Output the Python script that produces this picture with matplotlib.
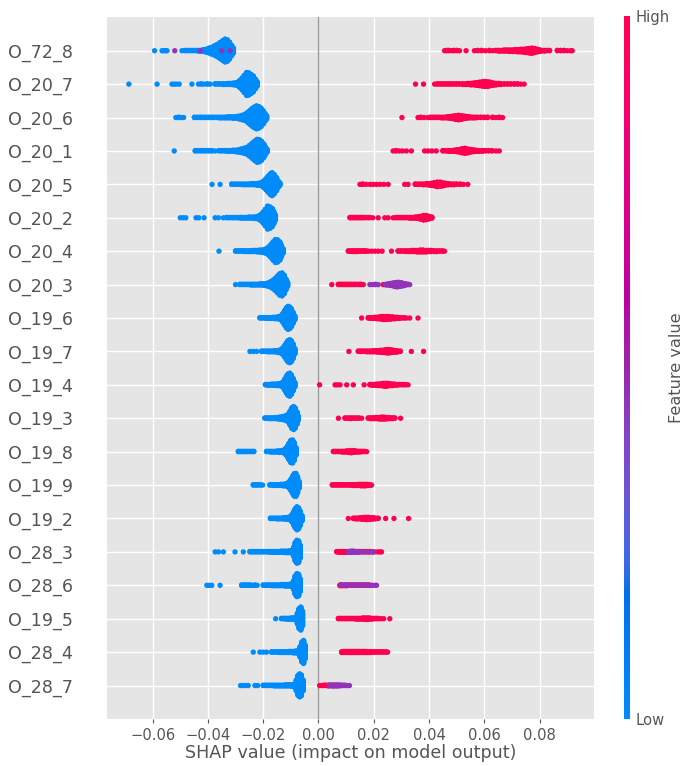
import numpy as np
import matplotlib
matplotlib.use("Agg")
import matplotlib.pyplot as plt
from matplotlib.colors import LinearSegmentedColormap, Normalize

plt.style.use("ggplot")

# features from top to bottom
features = ["O_72_8", "O_20_7", "O_20_6", "O_20_1", "O_20_5", "O_20_2", "O_20_4",
            "O_20_3", "O_19_6", "O_19_7", "O_19_4", "O_19_3", "O_19_8", "O_19_9",
            "O_19_2", "O_28_3", "O_28_6", "O_19_5", "O_28_4", "O_28_7"]

# (shap value, number of samples at that value) for low / high / middle feature values
o_72_8_low = [(-0.0593, 1), (-0.0566, 1), (-0.0560, 1), (-0.0554, 1), (-0.0548, 1),
              (-0.0494, 1), (-0.0484, 2), (-0.0474, 2), (-0.0464, 2), (-0.0454, 2),
              (-0.0444, 2), (-0.0434, 3), (-0.0426, 3), (-0.0416, 6), (-0.0406, 9),
              (-0.0396, 14), (-0.0386, 19), (-0.0376, 26), (-0.0366, 34), (-0.0356, 44),
              (-0.0346, 54), (-0.0338, 62), (-0.0330, 58), (-0.0322, 46), (-0.0314, 28),
              (-0.0308, 14)]
o_72_8_high = [(0.0456, 1), (0.0464, 2), (0.0472, 2), (0.0482, 1), (0.0490, 2), (0.0500, 2),
               (0.0510, 1), (0.0534, 1), (0.0564, 1), (0.0576, 2), (0.0590, 2), (0.0604, 1),
               (0.0618, 2), (0.0630, 1), (0.0642, 2), (0.0652, 3), (0.0662, 3), (0.0672, 4),
               (0.0682, 4), (0.0692, 5), (0.0702, 5), (0.0712, 6), (0.0722, 7), (0.0732, 8),
               (0.0742, 9), (0.0752, 11), (0.0762, 13), (0.0772, 15), (0.0782, 12),
               (0.0792, 8), (0.0802, 5), (0.0816, 3), (0.0826, 2), (0.0836, 2), (0.0864, 2),
               (0.0876, 2), (0.0888, 2), (0.0900, 1), (0.0912, 1), (0.0918, 1)]
o_72_8_mid = [(-0.0520, 1), (-0.0428, 1), (-0.0320, 1), (-0.0350, 1)]

o_20_7_low = [(-0.0686, 1), (-0.0584, 1), (-0.0530, 1), (-0.0522, 1), (-0.0514, 1),
              (-0.0504, 1), (-0.0458, 1), (-0.0434, 1), (-0.0424, 2), (-0.0414, 1),
              (-0.0402, 2), (-0.0392, 1), (-0.0374, 2), (-0.0364, 2), (-0.0354, 2),
              (-0.0344, 3), (-0.0334, 3), (-0.0324, 4), (-0.0314, 4), (-0.0306, 6),
              (-0.0296, 8), (-0.0286, 18), (-0.0276, 32), (-0.0268, 46), (-0.0260, 60),
              (-0.0252, 58), (-0.0244, 50), (-0.0236, 42), (-0.0228, 26), (-0.0222, 12)]
o_20_7_high = [(0.0351, 1), (0.0380, 1), (0.0420, 1), (0.0430, 2), (0.0440, 2), (0.0450, 2),
               (0.0460, 2), (0.0470, 2), (0.0480, 2), (0.0490, 2), (0.0500, 2), (0.0510, 2),
               (0.0522, 3), (0.0532, 3), (0.0542, 4), (0.0552, 5), (0.0562, 6), (0.0572, 8),
               (0.0582, 10), (0.0592, 12), (0.0602, 14), (0.0612, 13), (0.0622, 10),
               (0.0632, 7), (0.0642, 5), (0.0652, 4), (0.0660, 3), (0.0672, 2), (0.0684, 2),
               (0.0696, 2), (0.0708, 2), (0.0720, 2), (0.0732, 1), (0.0744, 1)]
o_20_7_mid = []

o_20_6_low = [(-0.0516, 1), (-0.0506, 2), (-0.0496, 1), (-0.0488, 1), (-0.0449, 2),
              (-0.0438, 2), (-0.0428, 2), (-0.0418, 2), (-0.0408, 2), (-0.0398, 2),
              (-0.0388, 2), (-0.0378, 2), (-0.0368, 2), (-0.0358, 3), (-0.0348, 3),
              (-0.0338, 3), (-0.0328, 4), (-0.0318, 4), (-0.0308, 5), (-0.0296, 6),
              (-0.0286, 9), (-0.0276, 13), (-0.0266, 18), (-0.0256, 28), (-0.0248, 38),
              (-0.0240, 48), (-0.0232, 56), (-0.0224, 62), (-0.0216, 58), (-0.0208, 50),
              (-0.0200, 36), (-0.0194, 22), (-0.0188, 10)]
o_20_6_high = [(0.0302, 1), (0.0360, 1), (0.0370, 2), (0.0382, 1), (0.0396, 1), (0.0406, 2),
               (0.0416, 2), (0.0426, 2), (0.0436, 2), (0.0446, 3), (0.0456, 3), (0.0466, 4),
               (0.0476, 6), (0.0486, 8), (0.0496, 11), (0.0506, 13), (0.0516, 11),
               (0.0526, 8), (0.0536, 6), (0.0546, 4), (0.0556, 3), (0.0566, 3), (0.0576, 2),
               (0.0588, 2), (0.0600, 2), (0.0612, 2), (0.0630, 2), (0.0642, 1), (0.0654, 2),
               (0.0666, 1)]
o_20_6_mid = []

o_20_1_low = [(-0.0522, 1), (-0.0446, 2), (-0.0436, 2), (-0.0426, 2), (-0.0416, 2),
              (-0.0406, 2), (-0.0396, 2), (-0.0386, 2), (-0.0374, 1), (-0.0360, 2),
              (-0.0350, 2), (-0.0340, 2), (-0.0330, 3), (-0.0320, 3), (-0.0310, 4),
              (-0.0300, 5), (-0.0290, 7), (-0.0280, 10), (-0.0270, 14), (-0.0260, 18),
              (-0.0250, 28), (-0.0240, 40), (-0.0230, 52), (-0.0222, 60), (-0.0214, 58),
              (-0.0206, 50), (-0.0198, 36), (-0.0192, 20), (-0.0186, 8)]
o_20_1_high = [(0.0270, 1), (0.0280, 2), (0.0292, 1), (0.0304, 1), (0.0318, 1), (0.0336, 1),
               (0.0384, 1), (0.0396, 1), (0.0410, 1), (0.0426, 1), (0.0450, 2), (0.0460, 2),
               (0.0470, 3), (0.0480, 3), (0.0490, 4), (0.0500, 6), (0.0510, 8), (0.0520, 12),
               (0.0530, 14), (0.0540, 11), (0.0550, 8), (0.0560, 6), (0.0570, 4),
               (0.0580, 3), (0.0592, 3), (0.0604, 2), (0.0616, 2), (0.0628, 2), (0.0642, 1),
               (0.0654, 1)]
o_20_1_mid = []

o_20_5_low = [(-0.0385, 1), (-0.0356, 1), (-0.0314, 2), (-0.0304, 2), (-0.0294, 2),
              (-0.0284, 2), (-0.0274, 3), (-0.0264, 3), (-0.0254, 3), (-0.0244, 4),
              (-0.0234, 4), (-0.0224, 5), (-0.0216, 6), (-0.0206, 10), (-0.0198, 18),
              (-0.0190, 30), (-0.0182, 44), (-0.0174, 56), (-0.0168, 62), (-0.0160, 52),
              (-0.0152, 36), (-0.0146, 18), (-0.0140, 8)]
o_20_5_high = [(0.0150, 1), (0.0160, 2), (0.0172, 1), (0.0186, 1), (0.0198, 1), (0.0210, 1),
               (0.0222, 1), (0.0236, 1), (0.0252, 1), (0.0312, 1), (0.0324, 1), (0.0350, 2),
               (0.0360, 2), (0.0370, 2), (0.0380, 3), (0.0390, 4), (0.0400, 5), (0.0410, 7),
               (0.0420, 10), (0.0430, 13), (0.0440, 12), (0.0450, 9), (0.0460, 6),
               (0.0470, 4), (0.0480, 3), (0.0490, 3), (0.0500, 2), (0.0512, 2), (0.0524, 1),
               (0.0540, 1)]
o_20_5_mid = []

o_20_2_low = [(-0.0500, 1), (-0.0490, 1), (-0.0480, 1), (-0.0443, 1), (-0.0433, 1),
              (-0.0414, 1), (-0.0374, 1), (-0.0362, 1), (-0.0344, 1), (-0.0332, 2),
              (-0.0322, 2), (-0.0312, 2), (-0.0302, 2), (-0.0292, 2), (-0.0282, 3),
              (-0.0272, 3), (-0.0262, 3), (-0.0252, 4), (-0.0242, 4), (-0.0232, 5),
              (-0.0224, 6), (-0.0216, 10), (-0.0208, 18), (-0.0200, 30), (-0.0192, 46),
              (-0.0184, 62), (-0.0176, 58), (-0.0168, 50), (-0.0162, 34), (-0.0156, 14)]
o_20_2_high = [(0.0114, 2), (0.0122, 2), (0.0130, 2), (0.0138, 2), (0.0146, 2), (0.0154, 2),
               (0.0162, 2), (0.0172, 2), (0.0184, 2), (0.0196, 1), (0.0216, 1), (0.0240, 1),
               (0.0252, 1), (0.0270, 1), (0.0280, 2), (0.0290, 2), (0.0300, 2), (0.0310, 2),
               (0.0320, 2), (0.0330, 3), (0.0340, 3), (0.0350, 4), (0.0360, 6), (0.0370, 9),
               (0.0380, 13), (0.0390, 12), (0.0400, 8), (0.0410, 4)]
o_20_2_mid = []

o_20_4_low = [(-0.0360, 1), (-0.0300, 2), (-0.0292, 2), (-0.0284, 2), (-0.0276, 2),
              (-0.0268, 3), (-0.0260, 3), (-0.0252, 3), (-0.0244, 3), (-0.0236, 4),
              (-0.0228, 4), (-0.0220, 5), (-0.0212, 6), (-0.0204, 7), (-0.0196, 9),
              (-0.0188, 14), (-0.0180, 22), (-0.0172, 34), (-0.0164, 48), (-0.0156, 60),
              (-0.0148, 58), (-0.0140, 48), (-0.0134, 30), (-0.0128, 12)]
o_20_4_high = [(0.0108, 2), (0.0116, 2), (0.0124, 3), (0.0132, 3), (0.0140, 3), (0.0148, 2),
               (0.0156, 2), (0.0164, 2), (0.0172, 2), (0.0180, 1), (0.0192, 1), (0.0204, 1),
               (0.0216, 1), (0.0230, 1), (0.0264, 1), (0.0288, 2), (0.0298, 2), (0.0308, 2),
               (0.0318, 3), (0.0328, 3), (0.0338, 4), (0.0348, 4), (0.0358, 5), (0.0368, 6),
               (0.0378, 6), (0.0388, 5), (0.0398, 4), (0.0408, 4), (0.0418, 3), (0.0428, 3),
               (0.0438, 2), (0.0448, 2), (0.0456, 1)]
o_20_4_mid = []

o_20_3_low = [(-0.0300, 1), (-0.0284, 2), (-0.0276, 2), (-0.0268, 2), (-0.0260, 2),
              (-0.0252, 2), (-0.0244, 3), (-0.0236, 3), (-0.0228, 3), (-0.0220, 3),
              (-0.0212, 4), (-0.0204, 4), (-0.0196, 5), (-0.0188, 7), (-0.0180, 11),
              (-0.0172, 16), (-0.0164, 24), (-0.0156, 34), (-0.0148, 46), (-0.0140, 58),
              (-0.0132, 62), (-0.0124, 50), (-0.0118, 30), (-0.0112, 12)]
o_20_3_high = [(0.0048, 1), (0.0072, 2), (0.0080, 2), (0.0088, 2), (0.0096, 2), (0.0104, 2),
               (0.0112, 2), (0.0120, 2), (0.0128, 2), (0.0136, 2), (0.0146, 2), (0.0154, 2),
               (0.0162, 1), (0.0234, 1)]
o_20_3_mid = [(0.0186, 1), (0.0196, 1), (0.0206, 2), (0.0216, 1), (0.0244, 3), (0.0252, 4),
              (0.0260, 6), (0.0268, 8), (0.0276, 11), (0.0284, 13), (0.0292, 12),
              (0.0300, 10), (0.0308, 7), (0.0316, 4), (0.0324, 2), (0.0330, 1)]

o_19_6_low = [(-0.0212, 2), (-0.0204, 2), (-0.0196, 2), (-0.0188, 3), (-0.0180, 3),
              (-0.0172, 3), (-0.0164, 4), (-0.0156, 5), (-0.0148, 6), (-0.0140, 8),
              (-0.0134, 14), (-0.0128, 26), (-0.0122, 40), (-0.0116, 54), (-0.0110, 62),
              (-0.0104, 58), (-0.0098, 48), (-0.0092, 30), (-0.0086, 12)]
o_19_6_high = [(0.0156, 1), (0.0180, 2), (0.0188, 3), (0.0196, 3), (0.0204, 4), (0.0212, 5),
               (0.0220, 6), (0.0228, 8), (0.0236, 9), (0.0244, 9), (0.0252, 8), (0.0260, 7),
               (0.0268, 6), (0.0276, 5), (0.0284, 4), (0.0292, 3), (0.0300, 2), (0.0310, 2),
               (0.0318, 1), (0.0330, 1), (0.0360, 1)]
o_19_6_mid = []

o_19_7_low = [(-0.0248, 1), (-0.0236, 1), (-0.0224, 1), (-0.0206, 2), (-0.0198, 2),
              (-0.0190, 2), (-0.0182, 3), (-0.0174, 3), (-0.0166, 3), (-0.0158, 4),
              (-0.0150, 5), (-0.0142, 7), (-0.0134, 12), (-0.0128, 20), (-0.0122, 32),
              (-0.0116, 46), (-0.0110, 58), (-0.0104, 62), (-0.0098, 56), (-0.0092, 40),
              (-0.0086, 16)]
o_19_7_high = [(0.0110, 1), (0.0144, 2), (0.0152, 2), (0.0160, 2), (0.0168, 2), (0.0176, 3),
               (0.0184, 3), (0.0192, 3), (0.0200, 4), (0.0208, 4), (0.0216, 5), (0.0224, 6),
               (0.0232, 7), (0.0240, 8), (0.0248, 10), (0.0256, 10), (0.0264, 8),
               (0.0272, 6), (0.0280, 5), (0.0288, 3), (0.0296, 2), (0.0336, 1), (0.0380, 1)]
o_19_7_mid = []

o_19_4_low = [(-0.0192, 2), (-0.0184, 3), (-0.0176, 3), (-0.0168, 4), (-0.0160, 4),
              (-0.0152, 5), (-0.0144, 6), (-0.0136, 8), (-0.0128, 16), (-0.0122, 30),
              (-0.0116, 46), (-0.0110, 58), (-0.0104, 62), (-0.0098, 52), (-0.0092, 34),
              (-0.0086, 14)]
o_19_4_high = [(0.0004, 1), (0.0060, 1), (0.0068, 1), (0.0078, 1), (0.0102, 1), (0.0126, 1),
               (0.0165, 1), (0.0186, 2), (0.0194, 3), (0.0202, 3), (0.0210, 4), (0.0218, 5),
               (0.0226, 6), (0.0234, 8), (0.0242, 9), (0.0250, 8), (0.0258, 6), (0.0266, 5),
               (0.0274, 4), (0.0284, 3), (0.0294, 2), (0.0304, 2), (0.0314, 2), (0.0324, 1)]
o_19_4_mid = []

o_19_3_low = [(-0.0194, 2), (-0.0186, 2), (-0.0178, 3), (-0.0170, 3), (-0.0162, 3),
              (-0.0154, 4), (-0.0146, 5), (-0.0140, 6), (-0.0132, 8), (-0.0126, 10),
              (-0.0120, 12), (-0.0114, 16), (-0.0108, 24), (-0.0102, 40), (-0.0096, 56),
              (-0.0090, 62), (-0.0084, 54), (-0.0078, 34), (-0.0074, 14)]
o_19_3_high = [(0.0072, 1), (0.0096, 2), (0.0106, 2), (0.0116, 3), (0.0126, 2), (0.0136, 2),
               (0.0146, 2), (0.0156, 1), (0.0180, 2), (0.0188, 3), (0.0196, 3), (0.0204, 4),
               (0.0212, 4), (0.0220, 5), (0.0228, 6), (0.0236, 6), (0.0244, 5), (0.0252, 4),
               (0.0260, 3), (0.0268, 3), (0.0276, 2), (0.0297, 1)]
o_19_3_mid = []

o_19_8_low = [(-0.0290, 2), (-0.0282, 2), (-0.0274, 2), (-0.0266, 2), (-0.0258, 2),
              (-0.0250, 2), (-0.0242, 2), (-0.0234, 2), (-0.0188, 2), (-0.0180, 2),
              (-0.0172, 3), (-0.0164, 3), (-0.0156, 3), (-0.0148, 4), (-0.0140, 5),
              (-0.0132, 6), (-0.0124, 10), (-0.0118, 18), (-0.0112, 30), (-0.0106, 46),
              (-0.0100, 60), (-0.0094, 62), (-0.0088, 48), (-0.0082, 22)]
o_19_8_high = [(0.0054, 2), (0.0062, 2), (0.0070, 2), (0.0078, 2), (0.0086, 3), (0.0094, 3),
               (0.0102, 4), (0.0110, 5), (0.0118, 7), (0.0126, 6), (0.0134, 4), (0.0142, 3),
               (0.0150, 3), (0.0158, 2), (0.0166, 2), (0.0174, 1)]
o_19_8_mid = []

o_19_9_low = [(-0.0236, 2), (-0.0228, 2), (-0.0220, 2), (-0.0210, 2), (-0.0202, 1),
              (-0.0176, 2), (-0.0168, 2), (-0.0160, 3), (-0.0152, 3), (-0.0144, 3),
              (-0.0136, 4), (-0.0128, 5), (-0.0120, 6), (-0.0112, 10), (-0.0106, 18),
              (-0.0100, 30), (-0.0094, 46), (-0.0088, 60), (-0.0082, 62), (-0.0076, 44),
              (-0.0070, 18)]
o_19_9_high = [(0.0050, 2), (0.0058, 2), (0.0066, 2), (0.0074, 2), (0.0082, 2), (0.0090, 2),
               (0.0098, 2), (0.0106, 2), (0.0114, 2), (0.0122, 3), (0.0130, 3), (0.0138, 3),
               (0.0146, 4), (0.0154, 5), (0.0162, 5), (0.0170, 5), (0.0178, 4), (0.0186, 3),
               (0.0192, 1)]
o_19_9_mid = []

o_19_2_low = [(-0.0174, 2), (-0.0166, 2), (-0.0158, 2), (-0.0150, 3), (-0.0142, 3),
              (-0.0134, 3), (-0.0126, 4), (-0.0118, 5), (-0.0110, 6), (-0.0102, 10),
              (-0.0096, 20), (-0.0090, 36), (-0.0084, 52), (-0.0078, 62), (-0.0072, 56),
              (-0.0066, 38), (-0.0060, 16)]
o_19_2_high = [(0.0108, 1), (0.0126, 2), (0.0134, 3), (0.0142, 3), (0.0150, 4), (0.0158, 5),
               (0.0166, 6), (0.0174, 7), (0.0182, 6), (0.0190, 5), (0.0198, 4), (0.0206, 3),
               (0.0216, 2), (0.0243, 1), (0.0273, 1), (0.0326, 1)]
o_19_2_mid = []

o_28_3_low = [(-0.0374, 1), (-0.0362, 1), (-0.0344, 1), (-0.0302, 1), (-0.0272, 1),
              (-0.0248, 2), (-0.0240, 2), (-0.0232, 2), (-0.0224, 2), (-0.0216, 2),
              (-0.0208, 2), (-0.0200, 2), (-0.0192, 2), (-0.0184, 2), (-0.0176, 3),
              (-0.0168, 3), (-0.0160, 3), (-0.0152, 3), (-0.0144, 3), (-0.0136, 4),
              (-0.0128, 4), (-0.0120, 5), (-0.0112, 5), (-0.0104, 6), (-0.0096, 8),
              (-0.0090, 24), (-0.0084, 50), (-0.0078, 62), (-0.0072, 58), (-0.0066, 34)]
o_28_3_high = [(0.0066, 2), (0.0074, 3), (0.0082, 3), (0.0090, 3), (0.0098, 3), (0.0106, 3),
               (0.0114, 3), (0.0122, 3), (0.0130, 3), (0.0138, 2), (0.0146, 2), (0.0154, 2),
               (0.0162, 2), (0.0170, 2), (0.0178, 2), (0.0186, 2), (0.0194, 1), (0.0202, 1),
               (0.0214, 1), (0.0222, 1), (0.0228, 1)]
o_28_3_mid = [(0.0110, 3), (0.0118, 4), (0.0126, 4), (0.0134, 3), (0.0142, 3), (0.0150, 2),
              (0.0166, 1), (0.0182, 1), (0.0198, 1)]

o_28_6_low = [(-0.0404, 1), (-0.0396, 1), (-0.0386, 1), (-0.0356, 1), (-0.0278, 2),
              (-0.0270, 2), (-0.0262, 2), (-0.0254, 2), (-0.0246, 2), (-0.0238, 1),
              (-0.0230, 2), (-0.0222, 1), (-0.0200, 2), (-0.0192, 2), (-0.0184, 2),
              (-0.0176, 2), (-0.0168, 3), (-0.0160, 3), (-0.0152, 3), (-0.0144, 3),
              (-0.0136, 4), (-0.0128, 4), (-0.0120, 5), (-0.0112, 5), (-0.0104, 6),
              (-0.0096, 8), (-0.0090, 24), (-0.0084, 50), (-0.0078, 62), (-0.0072, 58),
              (-0.0066, 34)]
o_28_6_high = [(0.0078, 3), (0.0086, 3), (0.0094, 3), (0.0102, 3), (0.0110, 2), (0.0118, 2),
               (0.0126, 2), (0.0134, 2), (0.0142, 2), (0.0150, 2), (0.0158, 2), (0.0166, 2),
               (0.0174, 2), (0.0182, 2), (0.0190, 1)]
o_28_6_mid = [(0.0082, 2), (0.0098, 2), (0.0114, 2), (0.0130, 2), (0.0146, 2), (0.0162, 2),
              (0.0178, 2), (0.0194, 1), (0.0204, 1), (0.0210, 1)]

o_19_5_low = [(-0.0155, 1), (-0.0134, 2), (-0.0128, 2), (-0.0122, 2), (-0.0116, 3),
              (-0.0110, 3), (-0.0104, 3), (-0.0098, 4), (-0.0092, 4), (-0.0086, 5),
              (-0.0080, 8), (-0.0076, 30), (-0.0070, 54), (-0.0064, 62), (-0.0058, 40)]
o_19_5_high = [(0.0072, 2), (0.0080, 2), (0.0088, 2), (0.0096, 2), (0.0104, 2), (0.0112, 2),
               (0.0120, 2), (0.0128, 2), (0.0136, 3), (0.0144, 3), (0.0152, 3), (0.0160, 4),
               (0.0168, 5), (0.0176, 5), (0.0184, 4), (0.0192, 3), (0.0200, 2), (0.0208, 2),
               (0.0216, 2), (0.0226, 1), (0.0236, 1), (0.0258, 1)]
o_19_5_mid = []

o_28_4_low = [(-0.0236, 1), (-0.0212, 1), (-0.0200, 1), (-0.0188, 1), (-0.0170, 2),
              (-0.0162, 2), (-0.0154, 2), (-0.0146, 2), (-0.0138, 3), (-0.0130, 3),
              (-0.0122, 3), (-0.0114, 3), (-0.0106, 4), (-0.0098, 4), (-0.0090, 5),
              (-0.0082, 6), (-0.0074, 8), (-0.0066, 30), (-0.0060, 54), (-0.0054, 62),
              (-0.0048, 36)]
o_28_4_high = [(0.0084, 3), (0.0092, 4), (0.0100, 4), (0.0108, 4), (0.0116, 4), (0.0124, 4),
               (0.0132, 4), (0.0140, 4), (0.0148, 4), (0.0156, 4), (0.0164, 4), (0.0172, 4),
               (0.0180, 3), (0.0188, 3), (0.0196, 2), (0.0204, 2), (0.0212, 2), (0.0220, 2),
               (0.0228, 2), (0.0236, 2), (0.0244, 2), (0.0250, 1)]
o_28_4_mid = []

o_28_7_low = [(-0.0282, 1), (-0.0274, 1), (-0.0264, 1), (-0.0254, 1), (-0.0230, 1),
              (-0.0220, 1), (-0.0200, 2), (-0.0192, 2), (-0.0184, 2), (-0.0176, 2),
              (-0.0168, 2), (-0.0160, 3), (-0.0152, 3), (-0.0144, 3), (-0.0136, 3),
              (-0.0128, 3), (-0.0120, 4), (-0.0112, 4), (-0.0104, 4), (-0.0096, 5),
              (-0.0088, 7), (-0.0080, 30), (-0.0074, 54), (-0.0068, 62), (-0.0062, 56),
              (-0.0056, 30)]
o_28_7_high = [(0.0004, 1), (0.0012, 1), (0.0020, 2), (0.0028, 2), (0.0036, 3), (0.0044, 2),
               (0.0052, 2), (0.0060, 2), (0.0068, 2), (0.0076, 2), (0.0084, 1)]
o_28_7_mid = [(0.0040, 2), (0.0048, 3), (0.0056, 3), (0.0064, 3), (0.0072, 3), (0.0080, 2),
              (0.0088, 2), (0.0096, 2), (0.0104, 1), (0.0112, 1)]

low_sets = [o_72_8_low, o_20_7_low, o_20_6_low, o_20_1_low, o_20_5_low, o_20_2_low,
            o_20_4_low, o_20_3_low, o_19_6_low, o_19_7_low, o_19_4_low, o_19_3_low,
            o_19_8_low, o_19_9_low, o_19_2_low, o_28_3_low, o_28_6_low, o_19_5_low,
            o_28_4_low, o_28_7_low]
high_sets = [o_72_8_high, o_20_7_high, o_20_6_high, o_20_1_high, o_20_5_high, o_20_2_high,
             o_20_4_high, o_20_3_high, o_19_6_high, o_19_7_high, o_19_4_high, o_19_3_high,
             o_19_8_high, o_19_9_high, o_19_2_high, o_28_3_high, o_28_6_high, o_19_5_high,
             o_28_4_high, o_28_7_high]
mid_sets = [o_72_8_mid, o_20_7_mid, o_20_6_mid, o_20_1_mid, o_20_5_mid, o_20_2_mid,
            o_20_4_mid, o_20_3_mid, o_19_6_mid, o_19_7_mid, o_19_4_mid, o_19_3_mid,
            o_19_8_mid, o_19_9_mid, o_19_2_mid, o_28_3_mid, o_28_6_mid, o_19_5_mid,
            o_28_4_mid, o_28_7_mid]


def lch_to_rgb(l, c, h):
    a, b = c * np.cos(h), c * np.sin(h)
    fy = (l + 16.0) / 116.0
    f = np.array([fy + a / 500.0, fy, fy - b / 200.0])
    xyz = np.where(f > 6 / 29, f ** 3, 3 * (6 / 29) ** 2 * (f - 4 / 29))
    xyz = xyz * np.array([0.95047, 1.0, 1.08883])
    m = np.array([[3.2406, -1.5372, -0.4986],
                  [-0.9689, 1.8758, 0.0415],
                  [0.0557, -0.2040, 1.0570]])
    rgb = m @ xyz
    rgb = np.where(rgb > 0.0031308, 1.055 * np.abs(rgb) ** (1 / 2.4) - 0.055, 12.92 * rgb)
    return np.clip(rgb, 0, 1)


# perceptual blue -> red map, like shap's red_blue
steps = 100
ls = np.r_[np.linspace(54, 40, steps // 2), np.linspace(40, 54, steps // 2)]
cs = np.linspace(70, 90, steps)
hs = np.linspace(4.6588, 0.35470565 + 2 * np.pi, steps)
red_blue = LinearSegmentedColormap.from_list(
    "red_blue", [lch_to_rgb(l, c, h) for l, c, h in zip(ls, cs, hs)])


def swarm(groups, row_height=0.4):
    xs, vs, layers = [], [], []
    taken = {}
    for entries, v in groups:
        for x, n in entries:
            for _ in range(n):
                k = taken.get(x, 0)
                taken[x] = k + 1
                xs.append(x)
                vs.append(v)
                layers.append(k)
    layers = np.array(layers, dtype=float)
    ys = np.ceil(layers / 2) * ((layers % 2) * 2 - 1)
    ys *= 0.9 * (row_height / np.max(ys + 1))
    return np.array(xs), ys, np.array(vs)


fig = plt.figure(figsize=(6.84, 7.66), dpi=100)
ax = fig.add_axes([0.156, 0.0614, 0.713, 0.916])

n_feat = len(features)
for i, name in enumerate(features):
    pos = n_feat - 1 - i
    xs, ys, vs = swarm([(low_sets[i], 0.0), (high_sets[i], 1.0), (mid_sets[i], 0.45)])
    ax.scatter(xs, pos + ys, c=vs, cmap=red_blue, vmin=0, vmax=1, s=15,
               linewidths=0, alpha=1, zorder=3)

ax.axvline(0, color="#999999", lw=1.0, zorder=2)
ax.set_ylim(-1, n_feat)
ax.set_yticks(range(n_feat))
ax.set_yticklabels(features[::-1], fontsize=12.6)
ax.tick_params(axis="y", length=0, pad=24)
ax.tick_params(axis="x", labelsize=10.6, length=3, width=0.8)
ax.set_xlabel("SHAP value (impact on model output)", fontsize=12.6, labelpad=1)
ax.grid(True, color="white", lw=1.0)
for side in ["top", "right", "left", "bottom"]:
    ax.spines[side].set_visible(False)

cax = fig.add_axes([0.913, 0.061, 0.0083, 0.918])
sm = plt.cm.ScalarMappable(cmap=red_blue, norm=Normalize(0, 1))
cb = fig.colorbar(sm, cax=cax, ticks=[0, 1])
cb.set_ticklabels(["Low", "High"])
cb.set_label("Feature value", size=11.6, labelpad=0, color="#555555")
cb.ax.tick_params(labelsize=10.6, length=0, colors="#555555")
cb.outline.set_visible(False)

fig.savefig("out.png", dpi=100)
